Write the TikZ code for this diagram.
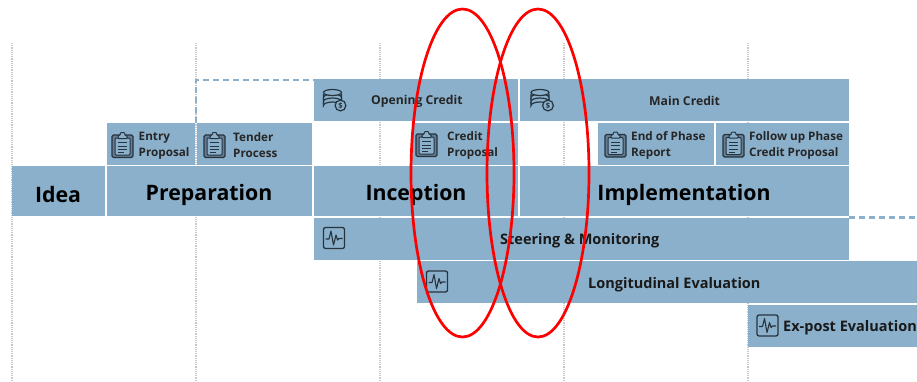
\documentclass[tikz,border=0pt]{standalone}
\usepackage{fontspec}
\setmainfont{Open Sans}
\definecolor{barblue}{HTML}{8BB0CB}
\definecolor{dashblue}{HTML}{8BB0CB}
\definecolor{icondark}{HTML}{26343F}
\definecolor{gridgrey}{HTML}{C8C8C8}
\tikzset{
  x=1pt,y=-1pt,
  bar/.style={fill=barblue,draw=none,inner sep=0pt,anchor=north west},
  phase/.style={font=\fontsize{21.3}{24}\selectfont\bfseries,text=black,inner sep=0pt},
  midlabel/.style={font=\fontsize{14.5}{16}\selectfont\bfseries,text=black!90,inner sep=0pt,anchor=west},
  toplabel/.style={font=\fontsize{12.2}{14}\selectfont\bfseries,text=black!85,inner sep=0pt,anchor=west},
  smalllabel/.style={font=\fontsize{11.7}{16}\selectfont\bfseries,text=black!85,inner sep=0pt,anchor=west,align=left},
  gridline/.style={gridgrey,line width=1.2pt,densely dotted},
  dashlink/.style={dashblue,line width=2.2pt,dash pattern=on 6pt off 4pt},
  clipicon/.pic={
    \draw[icondark,line width=1.2pt,fill=barblue!60!icondark,rounded corners=1.5pt] (-10.5,-10) rectangle (10.5,12.5);
    \draw[icondark,line width=1pt,fill=barblue,rounded corners=1pt] (-7.5,-7) rectangle (7.5,10);
    \draw[icondark,line width=1pt,fill=barblue,rounded corners=.8pt] (-4.5,-9.5) -- (-4.5,-6.5) -- (4.5,-6.5) -- (4.5,-9.5) -- (2.5,-9.5) -- (2,-12.5) -- (-2,-12.5) -- (-2.5,-9.5) -- cycle;
    \draw[icondark,line width=1pt] (-4.5,-2.5) -- (4.5,-2.5) (-4.5,1) -- (4.5,1) (-4.5,4.5) -- (4.5,4.5) (-4.5,7.5) -- (1,7.5);
  },
  coinsicon/.pic={
    \foreach \yy in {4,0,-4}{
      \draw[icondark,line width=1.2pt,fill=barblue] (-11,\yy-2) -- (-11,\yy+1.5) arc[start angle=180,end angle=360,x radius=9,y radius=3.5] -- (7,\yy-2);
    }
    \draw[icondark,line width=1.2pt,fill=barblue] (-2,-7.5) ellipse[x radius=9,y radius=3];
    \draw[icondark,line width=1.2pt,fill=barblue] (6,5.5) circle[radius=5.4];
    \node[font=\fontsize{7.5}{7.5}\selectfont\bfseries,text=icondark,inner sep=0pt] (coinglyph) at (6,5.5) {\$};
  },
  pulseicon/.pic={
    \draw[icondark,line width=1.3pt,rounded corners=2pt] (-10.5,-10.5) rectangle (10.5,10.5);
    \draw[icondark,line width=1.1pt,line join=round] (-8.5,1) -- (-5,1) -- (-3,-7) -- (-.5,7) -- (2,-3) -- (3.5,2) -- (5,.5) -- (8.5,.5);
  }
}
\begin{document}
\begin{tikzpicture}
\useasboundingbox (0,0) rectangle (917,381);
\clip (0,0) rectangle (917,381);
% grid
\coordinate (g1t) at (12,43);  \coordinate (g1b) at (12,381);
\coordinate (g2t) at (196,43); \coordinate (g2b) at (196,381);
\coordinate (g3t) at (380,43); \coordinate (g3b) at (380,381);
\coordinate (g4t) at (564,43); \coordinate (g4b) at (564,381);
\coordinate (g5t) at (748,43); \coordinate (g5b) at (748,381);
\foreach \n in {1,...,5}{\draw[gridline] (g\n t) -- (g\n b);}
% dashed links
\coordinate (dashend) at (917,217.5);
\coordinate (dashcorner) at (196,80);
\coordinate (dashstart) at (196,123);
\coordinate (dashtop) at (314,80);
\draw[dashlink] (dashstart) -- (dashcorner) -- (dashtop);
% bars
\node[bar,minimum width=93pt,minimum height=50pt] (idea) at (12,166) {};
\node[bar,minimum width=205pt,minimum height=50pt] (prep) at (107,166) {};
\node[bar,minimum width=204pt,minimum height=50pt] (incep) at (314,166) {};
\node[bar,minimum width=329pt,minimum height=50pt] (impl) at (520,166) {};
\node[bar,minimum width=204pt,minimum height=42pt] (opening) at (314,79) {};
\node[bar,minimum width=329pt,minimum height=42pt] (maincr) at (520,79) {};
\node[bar,minimum width=88pt,minimum height=42pt] (entry) at (107,123) {};
\node[bar,minimum width=115pt,minimum height=42pt] (tender) at (197,123) {};
\node[bar,minimum width=106pt,minimum height=42pt] (credit) at (412,123) {};
\node[bar,minimum width=116pt,minimum height=42pt] (endph) at (598,123) {};
\node[bar,minimum width=133pt,minimum height=42pt] (follow) at (716,123) {};
\node[bar,minimum width=535pt,minimum height=42pt] (steer) at (314,217.5) {};
\node[bar,minimum width=500pt,minimum height=42pt] (longi) at (417,261) {};
\node[bar,minimum width=169pt,minimum height=42pt] (expost) at (748,305) {};
\draw[dashlink] (steer.north east) -- (dashend);
% phase labels
\node[phase] (tidea) at (58,195) {Idea};
\node[phase] (tprep) at (209,195) {Preparation};
\node[phase] (tincep) at (416,195) {Inception};
\node[phase] (timpl) at (684,195) {Implementation};
% top labels
\node[toplabel] (topen) at (371,101) {Opening Credit};
\node[toplabel] (tmain) at (649,101) {Main Credit};
% small labels
\node[smalllabel] (tentry) at (138.5,145.5) {Entry\\Proposal};
\node[smalllabel] (ttender) at (233,145.5) {Tender\\Process};
\node[smalllabel] (tcredit) at (447,145.5) {Credit\\Proposal};
\node[smalllabel] (tend) at (631,145.5) {End of Phase\\Report};
\node[smalllabel] (tfollow) at (749,145.5) {Follow up Phase\\Credit Proposal};
% wide labels
\node[midlabel] (tsteer) at (500,241) {Steering \& Monitoring};
\node[midlabel] (tlong) at (588,285) {Longitudinal Evaluation};
\node[midlabel] (texp) at (783,328) {Ex-post Evaluation};
% icons
\pic at (122.5,145) {clipicon};
\pic at (214.5,145) {clipicon};
\pic at (426.5,144) {clipicon};
\pic at (615.5,144.5) {clipicon};
\pic at (733.5,144.5) {clipicon};
\pic at (334.5,100) {coinsicon};
\pic at (542,100) {coinsicon};
\pic at (334,238) {pulseicon};
\pic at (437,281.5) {pulseicon};
\pic at (767.5,325.5) {pulseicon};
% red ellipses
\draw[red,line width=2.7pt] (462.5,173) ellipse[x radius=51.5,y radius=164];
\draw[red,line width=2.7pt] (538,173) ellipse[x radius=51,y radius=164];
\end{tikzpicture}
\end{document}
